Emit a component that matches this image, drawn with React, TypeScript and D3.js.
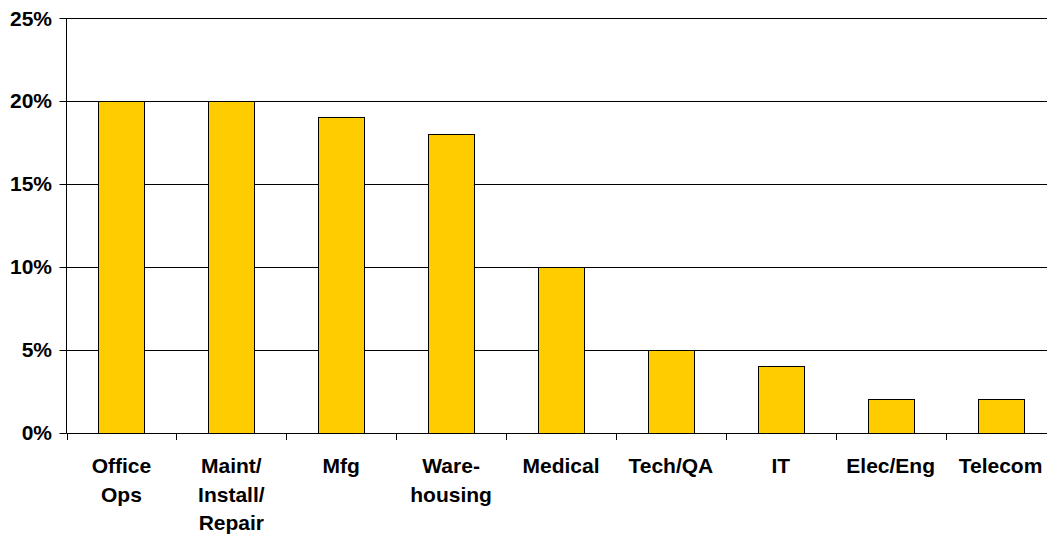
import React from "react";
import * as d3 from "d3";

const categories: string[][] = [
  ["Office", "Ops"],
  ["Maint/", "Install/", "Repair"],
  ["Mfg"],
  ["Ware-", "housing"],
  ["Medical"],
  ["Tech/QA"],
  ["IT"],
  ["Elec/Eng"],
  ["Telecom"],
];
const values: number[] = [20, 20, 19, 18, 10, 5, 4, 2, 2];
const yTicks: number[] = [0, 5, 10, 15, 20, 25];

export default function App() {
  const W = 1047, H = 537;
  const left = 66.5, right = 1055.5, top = 18, bottom = 432.5;
  const keys = categories.map((_, i) => String(i));
  const x = d3.scaleBand<string>().domain(keys).range([left, right]).paddingInner(0).paddingOuter(0);
  const y = d3.scaleLinear().domain([0, 25]).range([bottom, top]);
  const barW = 46;
  const font = "'Liberation Sans', Arial, sans-serif";
  return (
    <svg width={W} height={H} style={{ position: "absolute", left: 0, top: 0, background: "#fff" }}>
      {yTicks.map((t) => (
        <g key={t}>
          {t > 0 && <line x1={left} x2={W} y1={Math.round(y(t)) + 0.5} y2={Math.round(y(t)) + 0.5} stroke="#000" strokeWidth={1} />}
          <line x1={left - 7} x2={left} y1={Math.round(y(t)) + 0.5} y2={Math.round(y(t)) + 0.5} stroke="#000" strokeWidth={1} />
          <text x={52} y={y(t)} dy="0.36em" textAnchor="end" fontFamily={font} fontWeight="bold" fontSize={21} fill="#000">
            {t}%
          </text>
        </g>
      ))}
      {values.map((v, i) => {
        const cx = (x(String(i)) as number) + x.bandwidth() / 2;
        return (
          <rect key={i} x={Math.round(cx - barW / 2) + 0.5} y={Math.round(y(v)) + 0.5} width={barW} height={Math.round(y(0)) - Math.round(y(v))} fill="#FFCC00" stroke="#000" strokeWidth={1} />
        );
      })}
      <line x1={left} x2={left} y1={top} y2={Math.round(bottom) + 0.5} stroke="#000" strokeWidth={1} />
      <line x1={left} x2={W} y1={Math.round(bottom) + 0.5} y2={Math.round(bottom) + 0.5} stroke="#000" strokeWidth={1} />
      {keys.map((k) => (
        <line key={k} x1={Math.round(x(k) as number) + 0.5} x2={Math.round(x(k) as number) + 0.5} y1={Math.round(bottom)} y2={Math.round(bottom) + 7} stroke="#000" strokeWidth={1} />
      ))}
      {categories.map((lines, i) => {
        const cx = (x(String(i)) as number) + x.bandwidth() / 2;
        return (
          <text key={i} x={cx} textAnchor="middle" fontFamily={font} fontWeight="bold" fontSize={21} fill="#000">
            {lines.map((l, j) => (
              <tspan key={j} x={cx} y={473 + j * 28.5}>{l}</tspan>
            ))}
          </text>
        );
      })}
    </svg>
  );
}
